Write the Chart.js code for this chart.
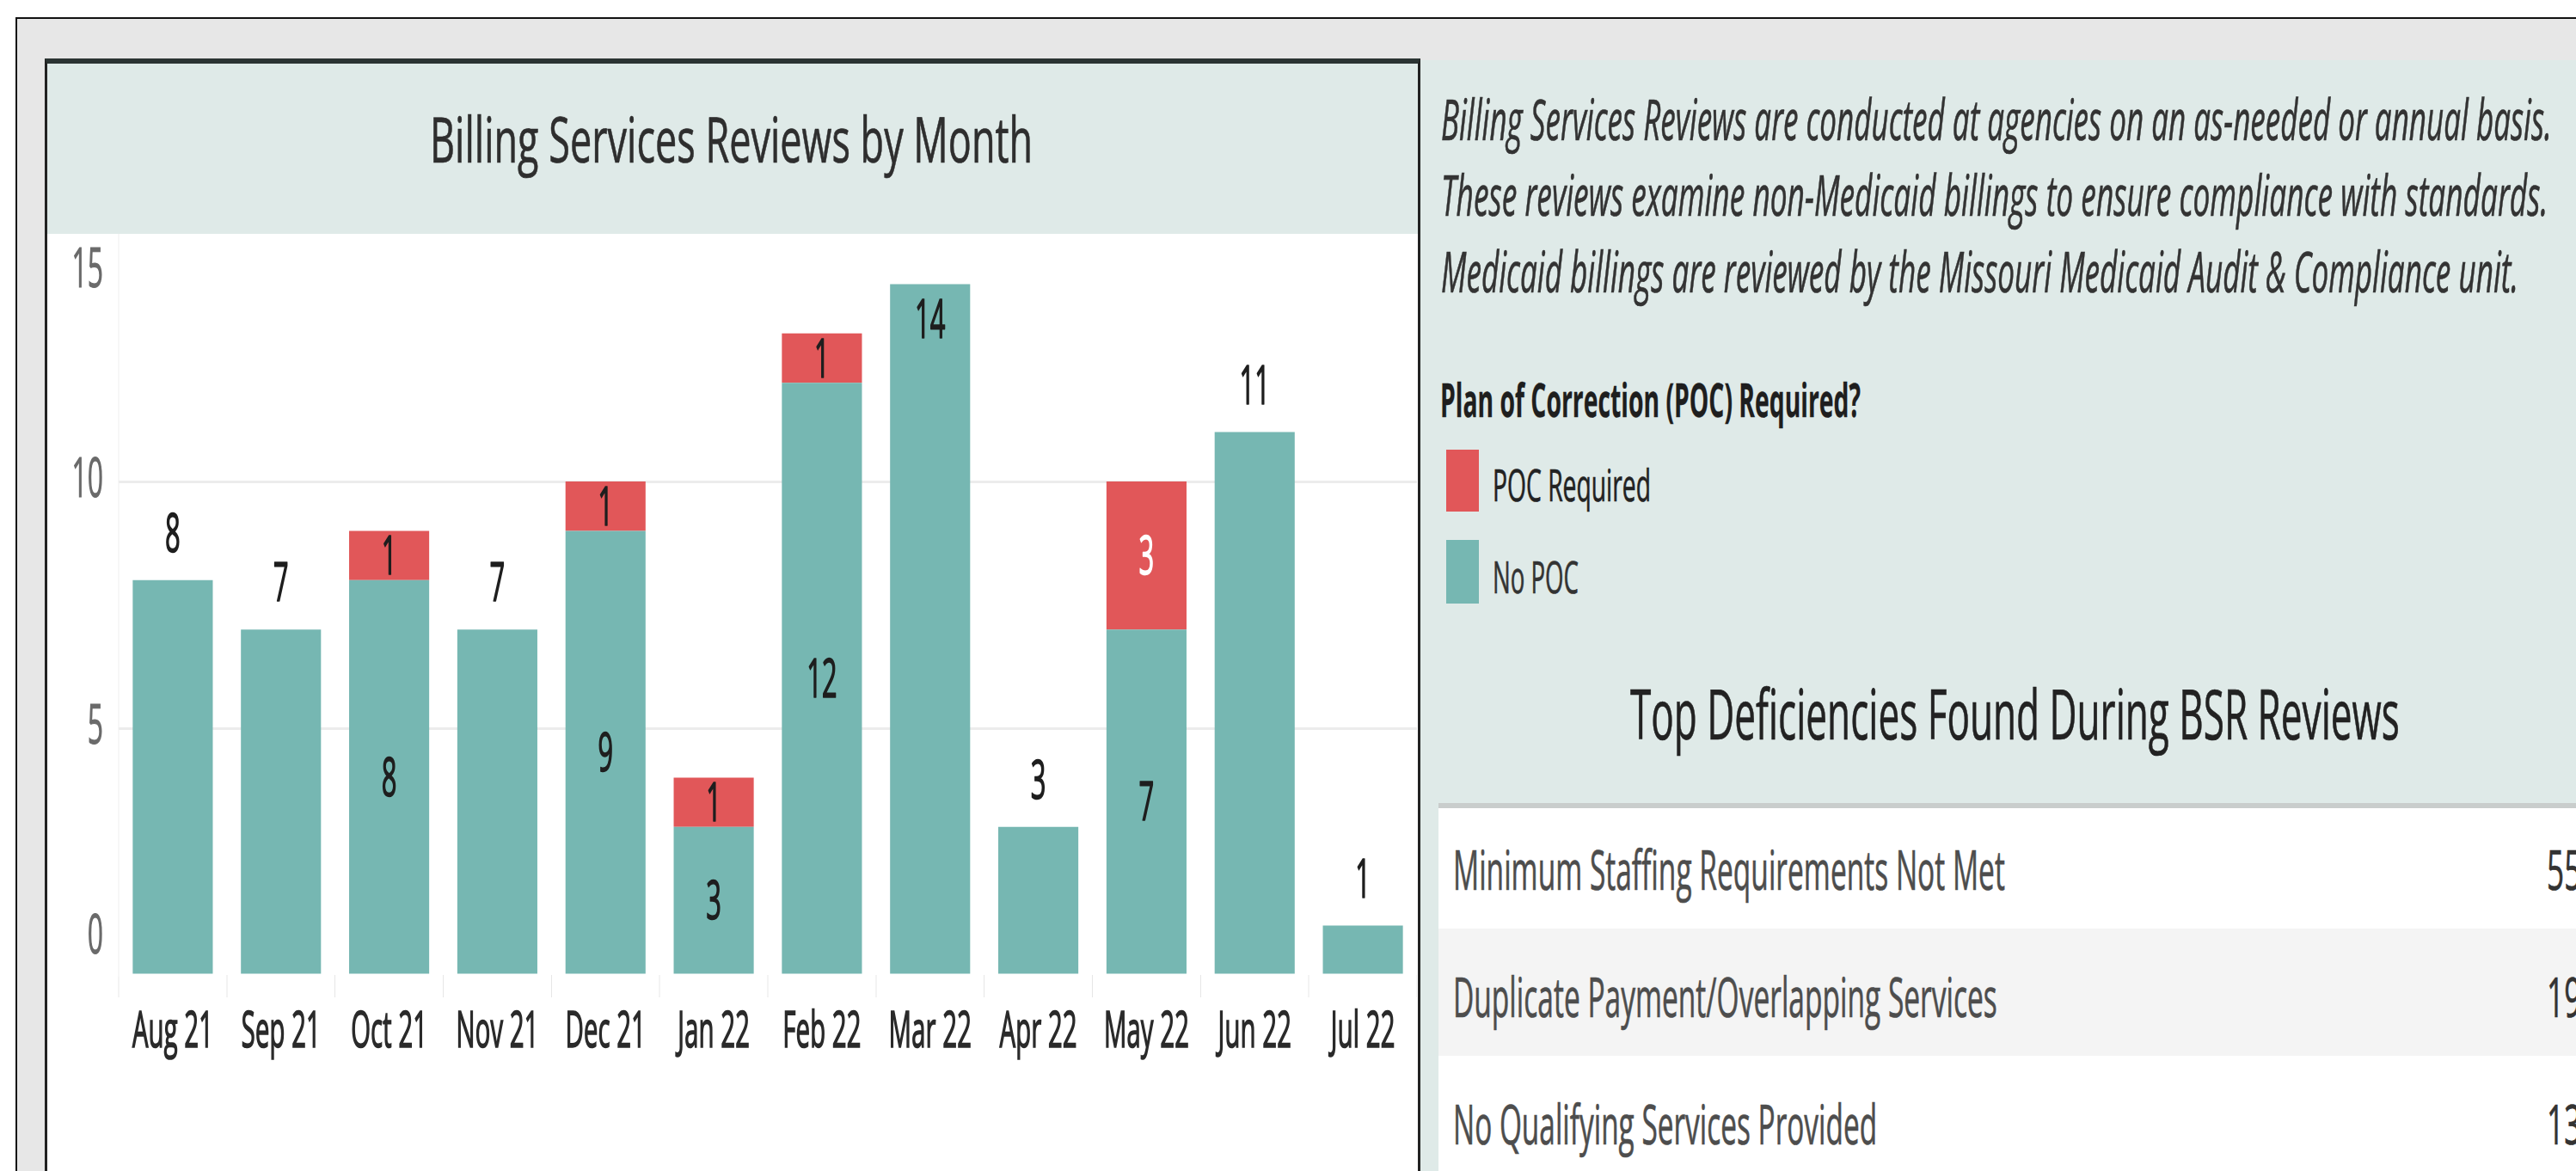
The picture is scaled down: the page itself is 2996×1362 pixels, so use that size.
<!DOCTYPE html>
<html>
<head>
<meta charset="utf-8">
<script src="https://cdn.jsdelivr.net/npm/chart.js@4.4.1/dist/chart.umd.min.js"></script>
<style>
html,body{margin:0;padding:0;width:2996px;height:1362px;overflow:hidden;background:#fff;font-family:'Open Sans',sans-serif;}
.abs{position:absolute;}
#frame{left:18px;top:20px;width:2990px;height:1350px;border-top:2px solid #111;border-left:2px solid #111;background:#e7e7e7;box-sizing:border-box;}
#panel{left:52px;top:68px;width:1600px;height:1300px;box-sizing:border-box;border-top:6px solid #2b3433;border-left:3px solid #222;border-right:3px solid #222;background:#dfeae8;}
#plotbg{left:55px;top:272px;width:1594px;height:1100px;background:#fff;}
#chartWrap{left:57px;top:272px;width:3182px;height:1090px;transform:scaleX(0.5);transform-origin:0 0;}
#right{left:1652px;top:70px;width:1344px;height:1292px;background:#dfeae8;}
.t{position:absolute;white-space:nowrap;line-height:1;transform-origin:0 50%;-webkit-text-stroke:0.7px currentColor;}
.sw{position:absolute;}
</style>
</head>
<body>
<div id="frame" class="abs"></div>
<div id="panel" class="abs"></div>
<div id="plotbg" class="abs"></div>
<div id="chartWrap" class="abs"><canvas id="c"></canvas></div>
<div id="right" class="abs"></div>

<div class="t" data-w="701" style="left:500px;top:124px;font-size:73px;color:#2e2e2e;">Billing Services Reviews by Month</div>

<div class="t" data-w="1292" style="left:1676px;top:104px;font-size:66px;font-style:italic;color:#333;">Billing Services Reviews are conducted at agencies on an as-needed or annual basis.</div>
<div class="t" data-w="1287" style="left:1676px;top:192px;font-size:66px;font-style:italic;color:#333;">These reviews examine non-Medicaid billings to ensure compliance with standards.</div>
<div class="t" data-w="1253" style="left:1676px;top:281px;font-size:66px;font-style:italic;color:#333;">Medicaid billings are reviewed by the Missouri Medicaid Audit &amp; Compliance unit.</div>

<div class="t" data-w="489" style="left:1675px;top:438px;font-size:53px;font-weight:bold;color:#1e1e1e;-webkit-text-stroke:0.3px currentColor;">Plan of Correction (POC) Required?</div>
<div class="sw" style="left:1682px;top:523px;width:38px;height:72px;background:#e15759;"></div>
<div class="t" data-w="184" style="left:1736px;top:538px;font-size:51px;color:#222;">POC Required</div>
<div class="sw" style="left:1682px;top:628px;width:38px;height:74px;background:#76b7b2;"></div>
<div class="t" data-w="100" style="left:1736px;top:645px;font-size:51px;color:#333;">No POC</div>

<div class="t" data-w="895" style="left:1896px;top:789px;font-size:80px;color:#222;">Top Deficiencies Found During BSR Reviews</div>

<div class="abs" style="left:1673px;top:934px;width:1323px;height:6px;background:#c9cdcc;"></div>
<div class="abs" style="left:1673px;top:940px;width:1323px;height:140px;background:#fff;"></div>
<div class="abs" style="left:1673px;top:1080px;width:1323px;height:148px;background:#f4f4f4;"></div>
<div class="abs" style="left:1673px;top:1228px;width:1323px;height:134px;background:#fff;"></div>

<div class="t" data-w="642" style="left:1690px;top:979px;font-size:64px;color:#4d4d4d;">Minimum Staffing Requirements Not Met</div>
<div class="t" data-w="633" style="left:1690px;top:1127px;font-size:64px;color:#4d4d4d;">Duplicate Payment/Overlapping Services</div>
<div class="t" data-w="493" style="left:1690px;top:1275px;font-size:64px;color:#4d4d4d;">No Qualifying Services Provided</div>
<div class="t" data-s="0.55" style="left:2962px;top:979px;font-size:64px;color:#333;">55</div>
<div class="t" data-s="0.55" style="left:2962px;top:1127px;font-size:64px;color:#333;">19</div>
<div class="t" data-s="0.55" style="left:2962px;top:1275px;font-size:64px;color:#333;">13</div>

<script>
// ---- data ----
const months = ['Aug 21','Sep 21','Oct 21','Nov 21','Dec 21','Jan 22','Feb 22','Mar 22','Apr 22','May 22','Jun 22','Jul 22'];
const noPoc = [8, 7, 8, 7, 9, 3, 12, 14, 3, 7, 11, 1];
const pocRequired = [0, 0, 1, 0, 1, 1, 1, 0, 0, 3, 0, 0];
const yTicks = [0, 5, 10, 15];

const TEAL = '#76b7b2';
const RED = '#e15759';

function fitTexts(){
  document.querySelectorAll('.t').forEach(el=>{
    el.style.transform='';
    const w = el.offsetWidth;
    let s = 1;
    if (el.dataset.w) s = parseFloat(el.dataset.w)/w;
    else if (el.dataset.s) s = parseFloat(el.dataset.s);
    el.style.transform = 'scaleX(' + s + ')';
  });
}
fitTexts();
if (document.fonts && document.fonts.ready) document.fonts.ready.then(fitTexts);

const barLabels = {
  id: 'barLabels',
  afterDatasetsDraw(chart){
    const ctx = chart.ctx;
    const m0 = chart.getDatasetMeta(0);
    const m1 = chart.getDatasetMeta(1);
    const fs = 62;
    ctx.save();
    ctx.font = fs + 'px "Open Sans", sans-serif';
    ctx.textAlign = 'center';
    ctx.textBaseline = 'alphabetic';
    ctx.lineWidth = 1.6;
    ctx.lineJoin = 'round';
    const capOff = 0.357*fs;
    const put = (txt, x, y, col) => {
      ctx.fillStyle = col; ctx.strokeStyle = col;
      ctx.strokeText(txt, x, y); ctx.fillText(txt, x, y);
    };
    for (let i = 0; i < months.length; i++){
      const b0 = m0.data[i];
      const b1 = m1.data[i];
      if (pocRequired[i] > 0){
        put(String(noPoc[i]), b0.x, (b0.y + b0.base)/2 + capOff, '#1e1e1e');
        put(String(pocRequired[i]), b1.x, (b1.y + b1.base)/2 + capOff, pocRequired[i] >= 2 ? '#ffffff' : '#1e1e1e');
      } else {
        let y = b0.y - 55;
        if (y - 25 < chart.chartArea.top) y = b0.y + 40;
        put(String(noPoc[i]), b0.x, y + capOff, '#1e1e1e');
      }
    }
    ctx.restore();
  }
};

new Chart(document.getElementById('c'), {
  type: 'bar',
  data: {
    labels: months,
    datasets: [
      {label: 'No POC', data: noPoc, backgroundColor: TEAL, barPercentage: 0.74, categoryPercentage: 1.0},
      {label: 'POC Required', data: pocRequired, backgroundColor: RED, barPercentage: 0.74, categoryPercentage: 1.0}
    ]
  },
  options: {
    responsive: true,
    maintainAspectRatio: false,
    animation: false,
    devicePixelRatio: 1,
    layout: {padding: {top: 1, left: 0, right: 0, bottom: 0}},
    plugins: {legend: {display: false}, tooltip: {enabled: false}},
    scales: {
      x: {
        stacked: true,
        offset: true,
        grid: {offset: true, drawOnChartArea: false, drawTicks: true, tickLength: 26, color: '#e6e6e6', lineWidth: 2},
        border: {display: false},
        ticks: {color: '#2a2a2a', padding: 6, autoSkip: false, maxRotation: 0, textStrokeColor: '#2a2a2a', textStrokeWidth: 1.6, font: {family: 'Open Sans', size: 59}},
        afterFit(s){ s.height = 228; s.paddingLeft = 0; s.paddingRight = 0; }
      },
      y: {
        stacked: true,
        min: 0, max: 15,
        afterBuildTicks(s){ s.ticks = yTicks.map(v => ({value: v})); },
        grid: {drawTicks: false, lineWidth: 3, color: (c) => (c.tick && (c.tick.value === 0 || c.tick.value === 15)) ? 'rgba(0,0,0,0)' : '#ececec'},
        border: {display: true, color: '#eeeeee', width: 2},
        ticks: {
          color: '#6a6a6a', padding: 36, textStrokeColor: '#6a6a6a', textStrokeWidth: 1,
          font: {family: 'Open Sans', size: 64, lineHeight: 1.35},
          callback: (v) => v === yTicks[0] ? [String(v), ''] : (v === yTicks[yTicks.length-1] ? ['', String(v)] : String(v))
        },
        afterFit(s){ s.width = 162; s.paddingTop = 0; s.paddingBottom = 0; }
      }
    }
  },
  plugins: [barLabels]
});
</script>
</body>
</html>
